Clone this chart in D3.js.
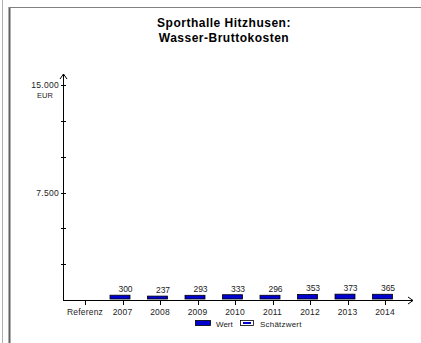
<!DOCTYPE html>
<html><head><meta charset="utf-8">
<script src="https://cdn.jsdelivr.net/npm/d3@7"></script>
<style>body{margin:0;background:#fff}svg{display:block}text{font-family:"Liberation Sans",Arial,sans-serif}</style>
</head><body><svg id="c" width="421" height="343"></svg>
<script>
const categories = ["Referenz","2007","2008","2009","2010","2011","2012","2013","2014"];
const values = [null,300,237,293,333,296,353,373,365];
const yTickValues = [0,2500,5000,7500,10000,12500,15000];
const yTickLabels = {7500:"7.500",15000:"15.000"};
const titleLines = ["Sporthalle Hitzhusen:","Wasser-Bruttokosten"];
const unit = "EUR";

const svg = d3.select("#c");
// frame
svg.append("line").attr("x1",2.5).attr("x2",2.5).attr("y1",0).attr("y2",343).attr("stroke","#b0b0b0").attr("stroke-width",1);
svg.append("line").attr("x1",9.5).attr("x2",9.5).attr("y1",7).attr("y2",343).attr("stroke","#606060").attr("stroke-width",2);
svg.append("line").attr("x1",9).attr("x2",421).attr("y1",7.5).attr("y2",7.5).attr("stroke","#808080").attr("stroke-width",1);

// title
svg.append("text").attr("x",224).attr("y",0).attr("text-anchor","middle")
  .attr("font-size",12).attr("font-weight","bold").attr("letter-spacing",0.5)
  .selectAll("tspan").data(titleLines).join("tspan").attr("x",224).attr("y",(d,i)=>27+i*14.5).text(d=>d);

const y = d3.scaleLinear().domain([0,15000]).range([300,85]);
const x = d3.scalePoint().domain(categories).range([85,385]);
const x0 = 63;

// y axis
const ya = svg.append("g");
ya.append("line").attr("x1",x0+0.5).attr("x2",x0+0.5).attr("y1",y(0)).attr("y2",74).attr("stroke","#000");
ya.append("path").attr("d",`M${x0-3},${79}L${x0+0.5},${74}L${x0+4},${79}`).attr("fill","none").attr("stroke","#000");
ya.selectAll(".t").data(yTickValues.filter(v=>v>0)).join("line")
  .attr("x1",x0-2).attr("x2",x0+3).attr("y1",d=>Math.round(y(d))+0.5).attr("y2",d=>Math.round(y(d))+0.5).attr("stroke","#000");
ya.selectAll(".l").data(yTickValues.filter(v=>yTickLabels[v])).join("text")
  .attr("x",x0-4).attr("y",d=>y(d)+3).attr("text-anchor","end").attr("font-size",8.5).attr("letter-spacing",0.3).attr("fill","#222").text(d=>yTickLabels[d]);
ya.append("text").attr("x",45).attr("y",98).attr("text-anchor","middle").attr("font-size",7.5).attr("fill","#222").text(unit);

// x axis
const xa = svg.append("g");
xa.append("line").attr("x1",x0).attr("x2",413).attr("y1",300.5).attr("y2",300.5).attr("stroke","#000");
xa.append("path").attr("d",`M408,297L413,300.5L408,304`).attr("fill","none").attr("stroke","#000");
xa.selectAll(".t").data(categories).join("line")
  .attr("x1",d=>Math.round(x(d))+0.5).attr("x2",d=>Math.round(x(d))+0.5).attr("y1",300).attr("y2",305).attr("stroke","#000");
xa.selectAll(".l").data(categories).join("text")
  .attr("x",d=>x(d)).attr("y",315).attr("text-anchor","middle").attr("font-size",8.5).attr("letter-spacing",0.2).attr("fill","#222").text(d=>d);

// bars
const data = categories.map((c,i)=>({c,v:values[i]})).filter(d=>d.v!=null);
svg.selectAll(".bar").data(data).join("rect")
  .attr("x",d=>x(d.c)-12.5).attr("width",20).attr("y",d=>y(d.v)-0.5).attr("height",d=>y(0)-y(d.v)-0.5)
  .attr("fill","#0000d0").attr("stroke","#000").attr("stroke-width",0.8);
svg.selectAll(".vl").data(data).join("text")
  .attr("x",d=>x(d.c)+3).attr("y",d=>y(d.v)-3.5).attr("text-anchor","middle").attr("font-size",8.5).attr("fill","#222").text(d=>d.v);

// legend
const lg = svg.append("g");
lg.append("rect").attr("x",195.5).attr("y",320.5).attr("width",15).attr("height",5).attr("fill","#0000d0").attr("stroke","#000").attr("stroke-width",0.8);
lg.append("text").attr("x",216).attr("y",326.5).attr("font-size",8).attr("fill","#222").text("Wert");
lg.append("rect").attr("x",240.5).attr("y",320.5).attr("width",13).attr("height",5).attr("fill","#fff").attr("stroke","#000").attr("stroke-width",0.8);
lg.append("rect").attr("x",243).attr("y",322).attr("width",8).attr("height",2).attr("fill","#0000d0");
lg.append("text").attr("x",260).attr("y",326.5).attr("font-size",8).attr("letter-spacing",0.2).attr("fill","#222").text("Schätzwert");
</script></body></html>
